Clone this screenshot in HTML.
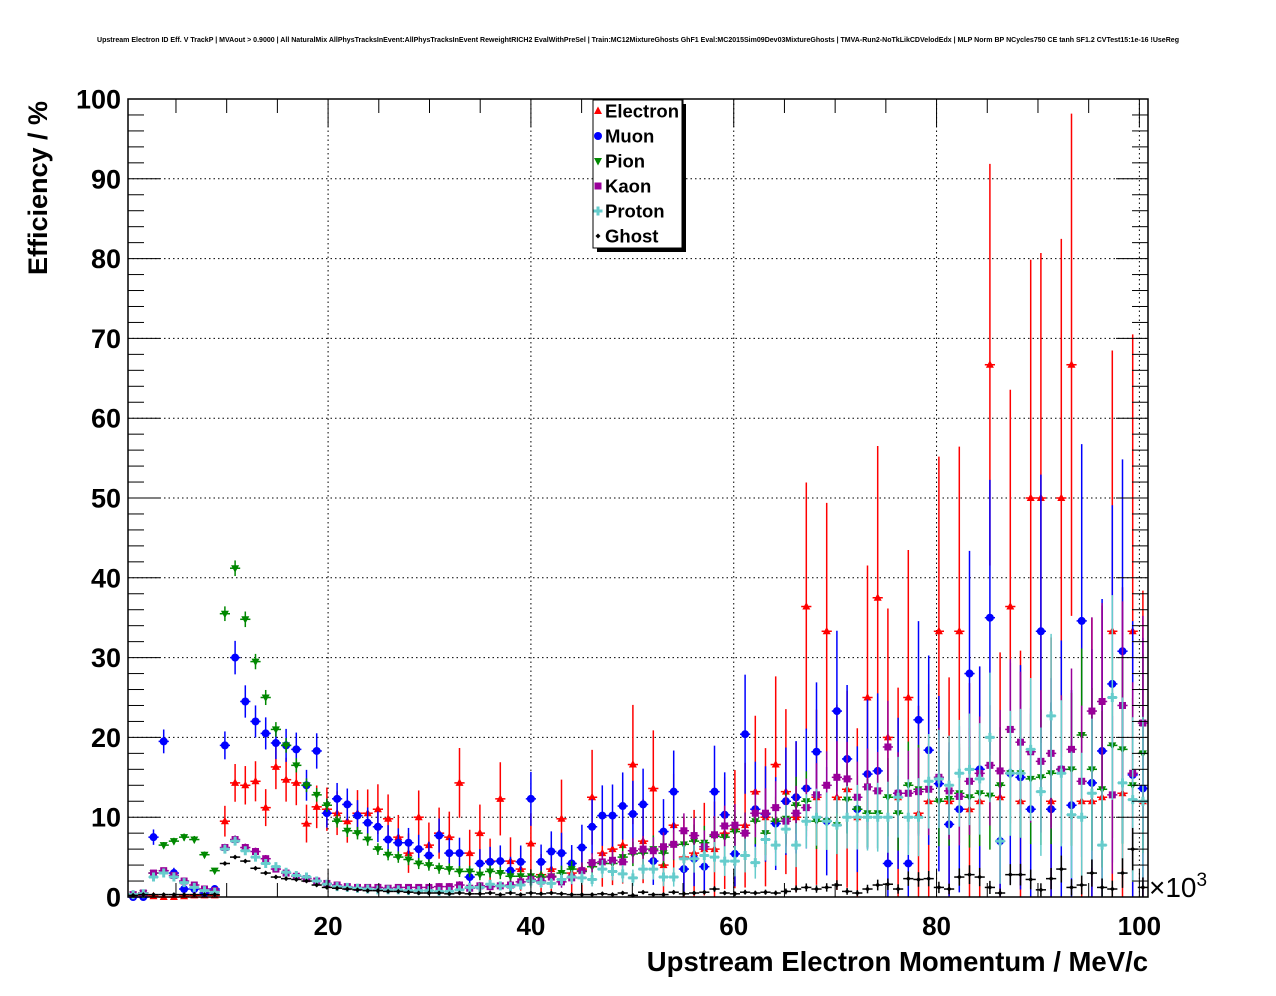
<!DOCTYPE html>
<html><head><meta charset="utf-8"><style>
html,body{margin:0;padding:0;background:#fff;}
svg{display:block;font-family:"Liberation Sans",sans-serif;}
</style></head><body>
<svg id="chart" width="1276" height="996" viewBox="0 0 1276 996" xmlns="http://www.w3.org/2000/svg">
<rect width="1276" height="996" fill="#fff"/>
<text x="638" y="42" font-size="7" font-weight="bold" text-anchor="middle" textLength="1082" lengthAdjust="spacingAndGlyphs">Upstream Electron ID Eff. V TrackP | MVAout &gt; 0.9000 | All NaturalMix AllPhysTracksInEvent:AllPhysTracksInEvent ReweightRICH2 EvalWithPreSel | Train:MC12MixtureGhosts GhF1 Eval:MC2015Sim09Dev03MixtureGhosts | TMVA-Run2-NoTkLikCDVelodEdx | MLP Norm BP NCycles750 CE tanh SF1.2 CVTest15:1e-16 !UseReg</text>
<g id="grid"></g>
<g id="marks"></g>
<g id="axes"></g>
<text transform="translate(47,188) rotate(-90)" font-size="27" font-weight="bold" text-anchor="middle">Efficiency / %</text>
<text x="1148" y="971" font-size="27.5" font-weight="bold" text-anchor="end">Upstream Electron Momentum / MeV/c</text>
<text x="1149" y="897" font-size="28" text-anchor="start">×10<tspan font-size="19" dy="-11">3</tspan></text>
<g id="legend"></g>
</svg>
<script>
const NS="http://www.w3.org/2000/svg";
const xTicks=[20,40,60,80,100];
const yTicks=[0,10,20,30,40,50,60,70,80,90,100];
const seriesNames=["Electron","Muon","Pion","Kaon","Proton","Ghost"];
const electron=[0.3,0.2,0.1,0,0,0.1,0.2,0.2,0.2,9.5,14.3,14,14.5,11.2,16.3,14.7,14.3,9.2,11.3,11,10.5,9.5,10.5,10.5,11,9.8,7.5,5.5,10,6.5,8,7.5,14.3,5.5,8,4.5,12.3,4.5,3.5,6.7,2.8,3.5,9.8,3,3.5,12.5,5.5,6,6.5,16.6,7,13.6,4,9,5,5.5,6,6,8,8.5,9,13.2,10,16.6,13.2,10,36.4,12.5,33.3,12.5,13.5,10,25,37.5,20,12.5,25,10.5,12,33.3,12,33.3,11,12,66.7,12.5,36.4,12,50,50,12,50,66.7,12,12,12.5,33.3,13,33.3,12];
const muon=[0,0,7.5,19.5,3,1,1,0.5,1,19,30,24.5,22,20.5,19.3,19,18.5,14,18.3,10.5,12.3,11.6,10.2,9.3,8.8,7.2,6.8,6.8,6,5.2,7.7,5.5,5.5,2.5,4.2,4.4,4.5,3.3,4.4,12.3,4.4,5.7,5.5,4.2,6.2,8.8,10.2,10.2,11.4,10.4,11.6,4.5,8.2,13.2,3.5,4.8,3.8,13.2,10.3,5.4,20.4,11,10.4,9.2,12,12.5,13.6,18.2,9.5,23.3,17.3,11,15.4,15.8,4.2,13,4.2,22.2,18.4,14.2,9.1,11,28,16,35,7,15.5,15,11,33.3,11,16,11.5,34.6,14.3,18.3,26.7,30.8,15.3,13.6];
const pion=[0.3,0.5,3,6.5,7,7.5,7.2,5.3,3.3,35.5,41.2,34.8,29.5,25,21,19,16.5,14,12.8,11.5,9.5,8.3,8,7.2,6,5.3,5,4.7,4.2,4,3.6,3.5,3.2,3.2,2.8,3.2,3,2.6,2.6,2.6,2.5,2.6,3,3.5,3.2,3.8,4.2,4.2,5,5.4,5.5,6,5.5,6.5,6.6,7,6.8,7.6,7.5,8.2,8,9.5,8,9.5,9.8,11.5,12,9.5,9.5,9,12.2,11,10.5,10.5,12.5,10.5,14,13.5,13.5,12,12.3,13,12.5,13,12.7,14,15.5,15.5,14.8,15,15.5,16,16,20.3,16,13.5,19,18.5,14,18];
const kaon=[0.3,0.5,3,3.3,2.7,2,1.5,1,0.8,6.2,7.2,6.2,5.7,4.8,3.5,3,2.6,2.3,2,1.7,1.5,1.3,1.2,1.2,1.2,1.1,1.2,1.2,1.2,1.2,1.3,1.3,1.5,1.1,1.4,1.3,1.4,1.5,1.9,2.2,2,2.5,1.9,2.4,3.3,4.3,4.4,4.6,4.4,5.8,6,5.8,6.3,6.6,8.3,7.7,6.3,7.8,8.9,9,8,10.5,10.5,11.2,9.5,10.5,11.2,12.8,14,15,14.8,12.5,13.8,13.3,18.8,13,13,13.2,13.5,15,13.3,12.6,14.5,15.5,16.5,15.8,21,19.4,18.2,17,18,16,18.5,14.5,23.3,24.5,12.8,24,15.5,21.8];
const proton=[0.3,0.4,2.5,3,2.5,1.8,1.2,0.8,0.6,6,7,5.8,5,4.2,3.8,3.1,2.7,2.5,2,1.6,1.3,1.2,1.1,1,0.9,0.9,0.9,0.8,0.8,0.8,0.7,0.7,0.9,1.2,1.2,1.6,1.4,1.3,1.5,2,1.8,1.7,2.2,2.5,2.4,2.2,3.5,3.2,2.9,2.4,3.5,3.5,2.5,2.5,4.8,4.8,5.2,5,4.5,4.5,5.2,4.3,7.2,6.5,8.5,6.5,9.5,10,9.5,9,10,10,10,10,10,12.5,10,10,14.5,14.8,14,15.5,16,14.8,20,7,15.5,15.5,18.5,13.2,22.7,15.5,10.3,10,13,6.5,25,14.3,12.2,12];
const ghost=[0.2,0.3,0.3,0.3,0.3,0.3,0.3,0.3,0.3,4.2,5,4.5,3.6,3,2.5,2.3,2.2,2,1.5,1.2,1.1,1,0.9,0.8,0.8,0.7,0.7,0.6,0.5,0.5,0.5,0.4,0.5,0.4,0.4,0.5,0.3,0.5,0.3,0.5,0.4,0.5,0.4,0.3,0.3,0.3,0.4,0.3,0.5,0.2,0.6,0.3,0.3,0.6,0.4,0.5,0.6,1,0.5,0.4,0.6,0.5,0.6,0.5,0.7,1,1.2,1,1.2,1.5,0.7,0.5,1,1.5,1.6,1,2.3,2.2,2.3,1.2,1,2.5,2.8,2.5,1.2,0.5,2.8,2.8,2.2,0.9,2.3,3.5,1.2,1.5,3,1.2,1,3,6,1.2];
const seriesData=[electron,muon,pion,kaon,proton,ghost];
const colors=["#ff0000","#0000ff","#008800","#990099","#66cccc","#000000"];
const statN0=[400,870,5000,5000,5000,20000];
const statTau=[18,18,16,16,16,18];
const binLo=0.27, binW=1.0058;

const L=128,R=1148,T=99,B=897, XMIN=0.27, XMAX=100.85;
const sx=v=>L+(v-XMIN)/(XMAX-XMIN)*(R-L);
const sy=v=>B-v/100*(B-T);
function el(tag,attrs,parent){const e=document.createElementNS(NS,tag);for(const k in attrs)e.setAttribute(k,attrs[k]);parent.appendChild(e);return e;}
const grid=document.getElementById('grid'),axes=document.getElementById('axes'),marks=document.getElementById('marks'),legend=document.getElementById('legend');

xTicks.forEach(t=>{const g=el('line',{x1:sx(t),x2:sx(t),y1:T,y2:B,stroke:'#000','stroke-width':1,'stroke-dasharray':'1.5,3'},grid);
});
yTicks.forEach(t=>{if(t===0||t===100)return;const g=el('line',{x1:L,x2:R,y1:sy(t),y2:sy(t),stroke:'#000','stroke-width':1,'stroke-dasharray':'1.5,3'},grid);
});

seriesData.forEach((arr,s)=>{
  const c=colors[s];
  arr.forEach((v,i)=>{
    const p=binLo+(i+0.5)*binW;
    const x=sx(p), y=sy(v);
    const n=Math.max(1.5,statN0[s]*Math.exp(-p/statTau[s]));
    const e=Math.sqrt(Math.max(v,0.5)*(100-v)/n);
    const g=el('g',{},marks);
    
    
    el('line',{x1:sx(p-binW/2),x2:sx(p+binW/2),y1:y,y2:y,stroke:c,'stroke-width':1.5},g);
    el('line',{x1:x,x2:x,y1:sy(Math.min(100,v+e)),y2:sy(Math.max(0,v-e)),stroke:c,'stroke-width':1.5},g);
    drawMarker(g,s,x,y,c);
  });
});
function drawMarker(g,s,x,y,c){
  if(s===0) el('polygon',{points:`${x},${y-4.5} ${x-4},${y+3} ${x+4},${y+3}`,fill:c},g);
  else if(s===1) el('circle',{cx:x,cy:y,r:4,fill:c},g);
  else if(s===2) el('polygon',{points:`${x},${y+4.5} ${x-4},${y-3} ${x+4},${y-3}`,fill:c},g);
  else if(s===3) el('rect',{x:x-3.5,y:y-3.5,width:7,height:7,fill:c},g);
  else if(s===4) el('path',{d:`M${x-1.5},${y-4.5}h3v3h3v3h-3v3h-3v-3h-3v-3h3z`,fill:c},g);
  else el('path',{d:`M${x},${y-2.5}L${x+2.5},${y}L${x},${y+2.5}L${x-2.5},${y}z`,fill:c},g);
}

const fr=el('rect',{x:L,y:T,width:R-L,height:B-T,fill:'none',stroke:'#000','stroke-width':1.5},axes);

for(let v=5;v<=100;v+=5){const maj=v%20===0;const len=maj?28:14;
  el('line',{x1:sx(v),x2:sx(v),y1:B,y2:B-len,stroke:'#000','stroke-width':1},axes);
  el('line',{x1:sx(v),x2:sx(v),y1:T,y2:T+len,stroke:'#000','stroke-width':1},axes);}
xTicks.forEach(t=>{const tx=el('text',{x:sx(t),y:935,'font-size':26,'font-weight':'bold','text-anchor':'middle'},axes);tx.textContent=t;
  });
for(let v=0;v<=100;v+=2){const maj=v%10===0;const len=maj?32:16;
  el('line',{x1:L,x2:L+len,y1:sy(v),y2:sy(v),stroke:'#000','stroke-width':1},axes);
  el('line',{x1:R,x2:R-len,y1:sy(v),y2:sy(v),stroke:'#000','stroke-width':1},axes);}
yTicks.forEach(t=>{const tx=el('text',{x:121,y:sy(t)+9.5,'font-size':27,'font-weight':'bold','text-anchor':'end'},axes);tx.textContent=t;
  });

el('rect',{x:597,y:104,width:89,height:148,fill:'#000'},legend);
const lb=el('rect',{x:593,y:100,width:89,height:148,fill:'#fff',stroke:'#000','stroke-width':1},legend);

seriesNames.forEach((nm,s)=>{
  const y=111+s*25;
  const g=el('g',{},legend);
  
  
  drawMarker(g,s,598,y,colors[s]);
  const t=el('text',{x:605,y:y+6.5,'font-size':18.5,'font-weight':'bold'},g);t.textContent=nm;
});
</script>
</body></html>
